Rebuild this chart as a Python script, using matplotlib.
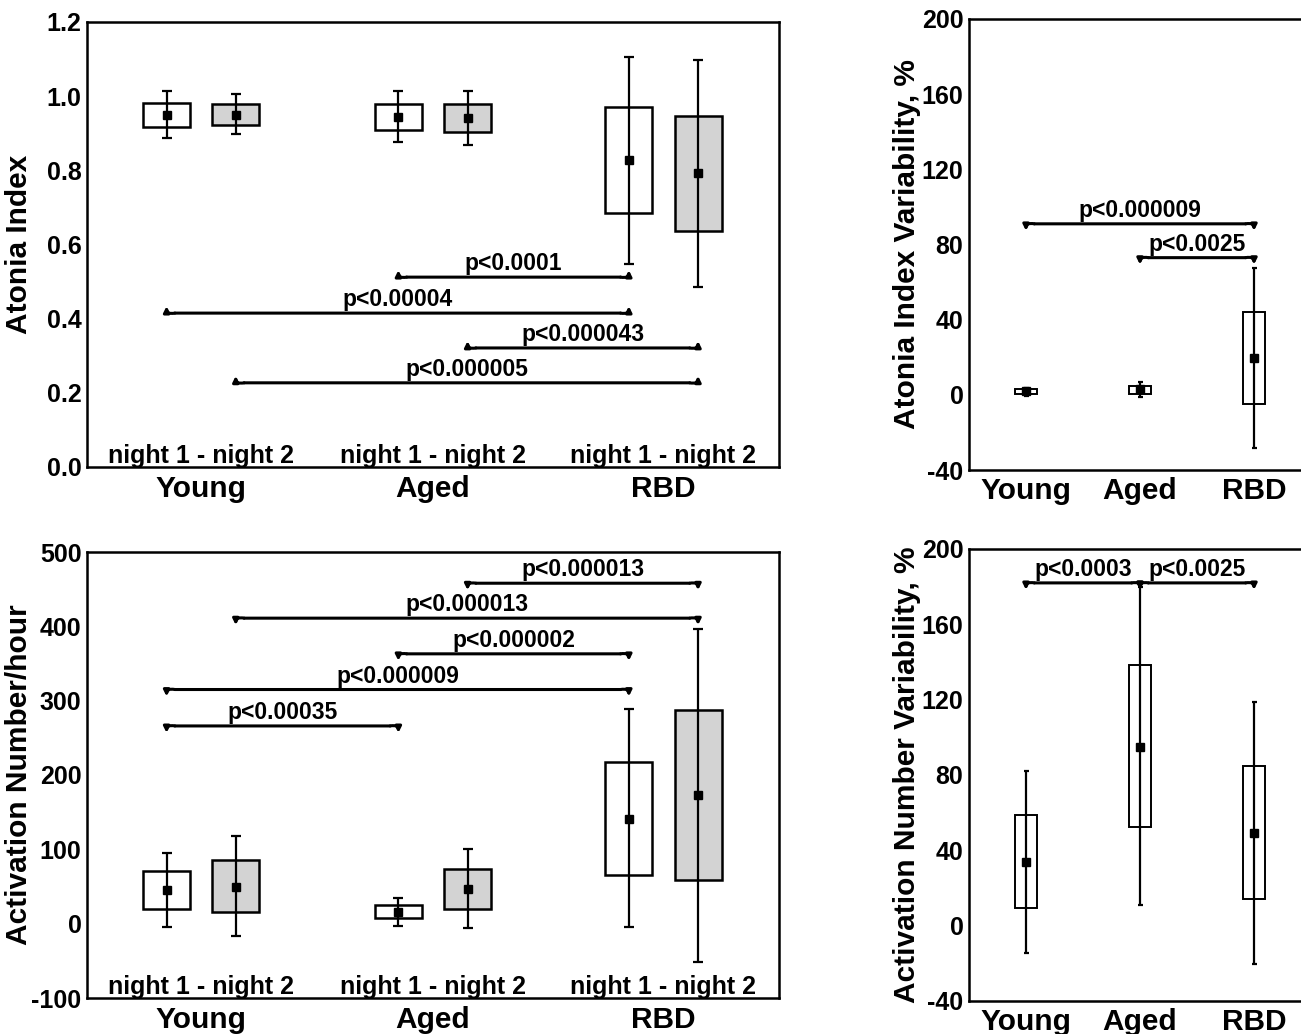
import matplotlib
matplotlib.use('Agg')
import matplotlib.pyplot as plt
import matplotlib.transforms as mtransforms

plt.rcParams['font.family'] = ['Liberation Sans', 'DejaVu Sans']
plt.rcParams['font.weight'] = 'bold'
plt.rcParams['axes.unicode_minus'] = False

groups = ['Young', 'Aged', 'RBD']
night_label = 'night 1 - night 2'

# Atonia index, night 1 / night 2
ai_n1_mean = [0.949, 0.944, 0.828]
ai_n1_lo = [0.917, 0.909, 0.685]
ai_n1_hi = [0.982, 0.979, 0.971]
ai_n1_wlo = [0.887, 0.876, 0.547]
ai_n1_whi = [1.014, 1.014, 1.106]
ai_n2_mean = [0.949, 0.941, 0.793]
ai_n2_lo = [0.922, 0.903, 0.637]
ai_n2_hi = [0.979, 0.979, 0.947]
ai_n2_wlo = [0.898, 0.868, 0.486]
ai_n2_whi = [1.006, 1.014, 1.098]

# Activation number/hour, night 1 / night 2
an_n1_mean = [45, 16, 141]
an_n1_lo = [20, 8, 66]
an_n1_hi = [71, 25, 217]
an_n1_wlo = [-4, -3, -5]
an_n1_whi = [95, 35, 289]
an_n2_mean = [50, 47, 173]
an_n2_lo = [16, 20, 59]
an_n2_hi = [85, 74, 287]
an_n2_wlo = [-16, -6, -51]
an_n2_whi = [118, 101, 396]

# variability, %
aiv_mean = [1.8, 2.9, 19.8]
aiv_lo = [0.5, 0.6, -5.0]
aiv_hi = [3.2, 4.9, 44.1]
aiv_wlo = [-0.5, -1.3, -28.1]
aiv_whi = [3.8, 7.0, 67.7]

anv_mean = [33.7, 95, 49.4]
anv_lo = [9.2, 52.4, 14]
anv_hi = [58.6, 138.4, 85]
anv_wlo = [-14.5, 11, -20.4]
anv_whi = [82.1, 180, 119]

# comparisons: (from box, to box, y, label)
ai_tests = [(2, 4, 0.512, 'p<0.0001'), (0, 4, 0.415, 'p<0.00004'),
            (3, 5, 0.321, 'p<0.000043'), (1, 5, 0.227, 'p<0.000005')]
an_tests = [(3, 5, 458, 'p<0.000013'), (1, 5, 411, 'p<0.000013'),
            (2, 4, 363, 'p<0.000002'), (0, 4, 315, 'p<0.000009'),
            (0, 2, 266, 'p<0.00035')]
aiv_tests = [(0, 2, 91, 'p<0.000009'), (1, 2, 73, 'p<0.0025')]
anv_tests = [(0, 1, 182, 'p<0.0003'), (1, 2, 182, 'p<0.0025')]

centers = [1.65, 5.0, 8.33]
pos_n1 = [c - 0.5 for c in centers]
pos_n2 = [c + 0.5 for c in centers]
pos_pairs = [p for c in centers for p in (c - 0.5, c + 0.5)]
pos_var = [1, 2, 3]

fig = plt.figure(figsize=(13.01, 10.34), dpi=100)
W, H = 1301, 1034


def add_ax(x0, y0, x1, y1):
    return fig.add_axes([x0 / W, 1 - y1 / H, (x1 - x0) / W, (y1 - y0) / H])


def boxes(ax, pos, mean, lo, hi, wlo, whi, color, width, lw, cap):
    heights = [h - l for h, l in zip(hi, lo)]
    ax.bar(pos, heights, bottom=lo, width=width, color=color,
           edgecolor='black', linewidth=lw, zorder=2)
    yerr = [[m - l for m, l in zip(mean, wlo)], [h - m for m, h in zip(mean, whi)]]
    ax.errorbar(pos, mean, yerr=yerr, fmt='s', color='black', ms=6,
                elinewidth=1.6, capsize=cap, capthick=1.6, zorder=3)


def bracket(ax, x1, x2, y, label, hook):
    d = 6
    def off(dx, dy):
        return mtransforms.offset_copy(ax.transData, fig=fig, x=dx, y=dy, units='points')
    kw = dict(color='black', lw=2.2, shrinkA=0, shrinkB=0)
    ax.annotate('', xy=(x2, y), xycoords=off(-d, 0), xytext=(x1, y), textcoords=off(d, 0),
                arrowprops=dict(arrowstyle='-', **kw))
    for x, side in ((x1, -1), (x2, 1)):
        ax.annotate('', xy=(x, y), xycoords=off(0, hook * 5),
                    xytext=(x, y), textcoords=off(-side * d, 0),
                    arrowprops=dict(arrowstyle='-|>', mutation_scale=8,
                                    connectionstyle='arc3,rad=%.2f' % (0.6 * side * hook), **kw))
    ax.annotate(label, xy=((x1 + x2) / 2, y), xytext=(0, 5), textcoords='offset points',
                ha='center', va='baseline', fontsize=16.5, fontweight='bold')


def style(ax):
    for s in ax.spines.values():
        s.set_linewidth(1.8)
    ax.tick_params(length=0, labelsize=18, pad=4)
    for t in ax.get_yticklabels() + ax.get_xticklabels():
        t.set_fontweight('bold')


# top left
ax1 = add_ax(87, 22, 779, 467)
boxes(ax1, pos_n1, ai_n1_mean, ai_n1_lo, ai_n1_hi, ai_n1_wlo, ai_n1_whi, 'white', 0.68, 1.8, 3.3)
boxes(ax1, pos_n2, ai_n2_mean, ai_n2_lo, ai_n2_hi, ai_n2_wlo, ai_n2_whi, '#d3d3d3', 0.68, 1.8, 3.3)
for i1, i2, y, lab in ai_tests:
    bracket(ax1, pos_pairs[i1], pos_pairs[i2], y, lab, 1)
ax1.set_xlim(0, 10)
ax1.set_ylim(0, 1.2)
ax1.set_yticks([0, 0.2, 0.4, 0.6, 0.8, 1.0, 1.2])
ax1.set_yticklabels(['0.0', '0.2', '0.4', '0.6', '0.8', '1.0', '1.2'])
ax1.set_xticks(centers)
ax1.set_xticklabels(groups)
ax1.set_ylabel('Atonia Index', fontsize=21.5, fontweight='bold')
ax1.yaxis.set_label_coords(-0.078, 0.5)

# bottom left
ax3 = add_ax(87, 552, 779, 998)
boxes(ax3, pos_n1, an_n1_mean, an_n1_lo, an_n1_hi, an_n1_wlo, an_n1_whi, 'white', 0.68, 1.8, 3.3)
boxes(ax3, pos_n2, an_n2_mean, an_n2_lo, an_n2_hi, an_n2_wlo, an_n2_whi, '#d3d3d3', 0.68, 1.8, 3.3)
for i1, i2, y, lab in an_tests:
    bracket(ax3, pos_pairs[i1], pos_pairs[i2], y, lab, -1)
ax3.set_xlim(0, 10)
ax3.set_ylim(-100, 500)
ax3.set_yticks(range(-100, 501, 100))
ax3.set_xticks(centers)
ax3.set_xticklabels(groups)
ax3.set_ylabel('Activation Number/hour', fontsize=21.5, fontweight='bold')
ax3.yaxis.set_label_coords(-0.078, 0.5)

for ax in (ax1, ax3):
    tr = mtransforms.blended_transform_factory(ax.transData, ax.transAxes)
    for c in centers:
        ax.text(c, 0.01, night_label, transform=tr, ha='center', va='baseline',
                fontsize=18, fontweight='bold', zorder=5)
    style(ax)
    ax.tick_params(axis='x', labelsize=21.5, pad=6)

# top right
ax2 = add_ax(969, 19, 1311, 470)
boxes(ax2, pos_var, aiv_mean, aiv_lo, aiv_hi, aiv_wlo, aiv_whi, 'white', 0.2, 1.4, 1.8)
for i1, i2, y, lab in aiv_tests:
    bracket(ax2, pos_var[i1], pos_var[i2], y, lab, -1)
ax2.set_xlim(0.5, 3.5)
ax2.set_ylim(-40, 200)
ax2.set_yticks(range(-40, 201, 40))
ax2.set_xticks(pos_var)
ax2.set_xticklabels(groups)
ax2.set_ylabel('Atonia Index Variability, %', fontsize=21.5, fontweight='bold')
ax2.yaxis.set_label_coords(-0.14, 0.5)

# bottom right
ax4 = add_ax(969, 549, 1311, 1001)
boxes(ax4, pos_var, anv_mean, anv_lo, anv_hi, anv_wlo, anv_whi, 'white', 0.2, 1.4, 1.8)
for i1, i2, y, lab in anv_tests:
    bracket(ax4, pos_var[i1], pos_var[i2], y, lab, -1)
ax4.set_xlim(0.5, 3.5)
ax4.set_ylim(-40, 200)
ax4.set_yticks(range(-40, 201, 40))
ax4.set_xticks(pos_var)
ax4.set_xticklabels(groups)
ax4.set_ylabel('Activation Number Variability, %', fontsize=21.5, fontweight='bold')
ax4.yaxis.set_label_coords(-0.14, 0.5)

for ax in (ax2, ax4):
    style(ax)
    ax.tick_params(axis='x', labelsize=21.5, pad=5)

fig.savefig('out.png', dpi=100)
